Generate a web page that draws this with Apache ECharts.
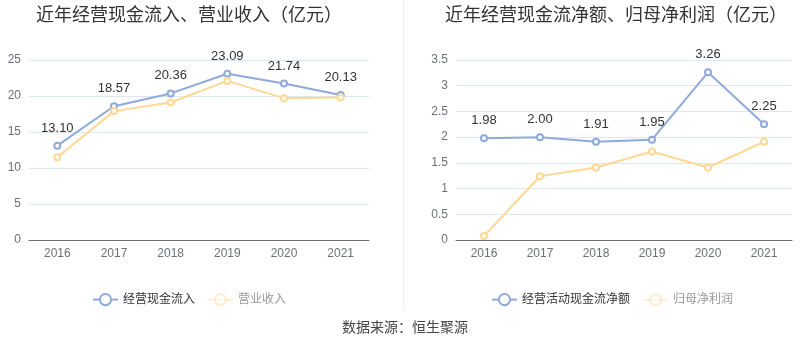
<!DOCTYPE html>
<html><head><meta charset="utf-8">
<script src="https://cdn.jsdelivr.net/npm/echarts@6/dist/echarts.min.js"></script>
<style>html,body{margin:0;padding:0;background:#fff}#c{width:800px;height:358px}</style>
</head><body><div id="c"></div>
<script>
var years = ['2016','2017','2018','2019','2020','2021'];
var cashInflow = [13.10, 18.57, 20.36, 23.09, 21.74, 20.13];
var revenue = [11.5, 17.9, 19.1, 22.1, 19.7, 19.8];
var netCashFlow = [1.98, 2.00, 1.91, 1.95, 3.26, 2.25];
var netProfit = [0.08, 1.24, 1.41, 1.72, 1.41, 1.91];
var leftTicks = [0, 5, 10, 15, 20, 25];
var rightTicks = [0, 0.5, 1, 1.5, 2, 2.5, 3, 3.5];

var BLUE = '#8eaadc', YELLOW = '#ffd894';
var font = '"Liberation Sans", "Noto Sans CJK SC", sans-serif';
var chart = echarts.init(document.getElementById('c'));

function xAxis(i){
  return {type:'category', gridIndex:i, data:years, boundaryGap:true,
    axisLine:{lineStyle:{color:'#6e7079'}}, axisTick:{alignWithLabel:true, lineStyle:{color:'#6e7079'}},
    axisLabel:{color:'#6e7079', fontSize:12, margin:8, fontFamily:font}};
}
function yAxis(i, ticks){
  return {type:'value', gridIndex:i, min:ticks[0], max:ticks[ticks.length-1], interval:ticks[1]-ticks[0],
    axisLine:{show:false}, axisTick:{show:false},
    axisLabel:{color:'#6e7079', fontSize:12, margin:8, fontFamily:font},
    splitLine:{lineStyle:{color:'#e0e6f1'}}};
}
function line(name, data, color, xi, labels){
  return {name:name, type:'line', xAxisIndex:xi, yAxisIndex:xi, data:data,
    symbol:'emptyCircle', symbolSize:6, lineStyle:{width:2, color:color}, itemStyle:{color:color},
    label:{show:labels, position:'top', color:'#333', fontSize:13, distance:7, fontFamily:font,
      formatter:function(p){return p.value.toFixed(2);}}};
}

chart.setOption({
  animation:false,
  textStyle:{fontFamily:font},
  title:[
    {text:'近年经营现金流入、营业收入（亿元）', left:184, top:2, textAlign:'center',
      textStyle:{fontSize:18, fontWeight:'normal', color:'#333', fontFamily:font}},
    {text:'近年经营现金流净额、归母净利润（亿元）', left:611, top:2, textAlign:'center',
      textStyle:{fontSize:18, fontWeight:'normal', color:'#333', fontFamily:font}},
    {text:'数据来源：恒生聚源', left:400, top:316, textAlign:'center',
      textStyle:{fontSize:14, fontWeight:'normal', color:'#444', fontFamily:font}}
  ],
  grid:[
    {left:29, top:60, width:340, height:180},
    {left:456, top:60, width:336, height:180}
  ],
  xAxis:[xAxis(0), xAxis(1)],
  yAxis:[yAxis(0, leftTicks), yAxis(1, rightTicks)],
  legend:[
    {left:87, top:288, width:300, itemWidth:25, itemHeight:14, itemGap:12, textStyle:{fontSize:12, fontFamily:font},
      data:[{name:'经营现金流入', textStyle:{color:'#333'}},
            {name:'营业收入', itemStyle:{opacity:0.45}, lineStyle:{opacity:0.45}, textStyle:{color:'#999'}}]},
    {left:486, top:288, width:300, itemWidth:25, itemHeight:14, itemGap:12, textStyle:{fontSize:12, fontFamily:font},
      data:[{name:'经营活动现金流净额', textStyle:{color:'#333'}},
            {name:'归母净利润', itemStyle:{opacity:0.45}, lineStyle:{opacity:0.45}, textStyle:{color:'#999'}}]}
  ],
  graphic:[{type:'line', shape:{x1:403.5, y1:0, x2:403.5, y2:310}, style:{stroke:'#eeeeee', lineWidth:1}}],
  series:[
    line('经营现金流入', cashInflow, BLUE, 0, true),
    line('营业收入', revenue, YELLOW, 0, false),
    line('经营活动现金流净额', netCashFlow, BLUE, 1, true),
    line('归母净利润', netProfit, YELLOW, 1, false)
  ]
});
</script></body></html>
